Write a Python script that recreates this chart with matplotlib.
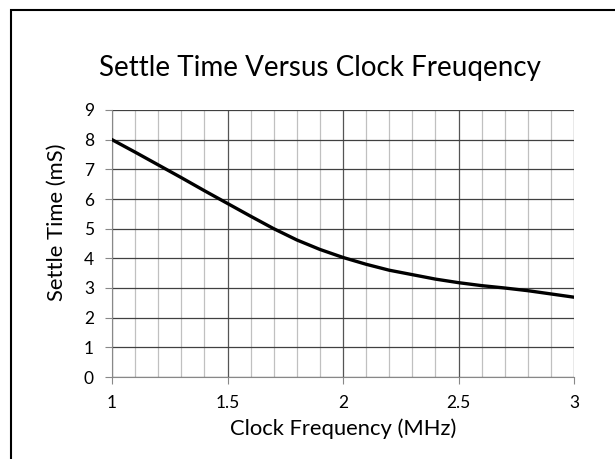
import matplotlib
matplotlib.use("Agg")
import matplotlib.pyplot as plt
from matplotlib.patches import Rectangle
from matplotlib.ticker import MultipleLocator

# clock frequency (MHz) and settle time (mS)
freq = [1.0, 1.1, 1.2, 1.3, 1.4, 1.5, 1.6, 1.7, 1.8, 1.9, 2.0,
        2.1, 2.2, 2.3, 2.4, 2.5, 2.6, 2.7, 2.8, 2.9, 3.0]
settle = [8.00, 7.58, 7.15, 6.72, 6.28, 5.85, 5.42, 5.00, 4.62, 4.30, 4.03,
          3.80, 3.60, 3.45, 3.30, 3.18, 3.08, 3.00, 2.91, 2.80, 2.69]

x_ticks = [1, 1.5, 2, 2.5, 3]
x_labels = ["1", "1.5", "2", "2.5", "3"]
y_ticks = list(range(0, 10))

plt.rcParams['font.family'] = ['Lato', 'DejaVu Sans']

fig = plt.figure(figsize=(6.15, 4.59), dpi=100)
ax = fig.add_axes([112/615, 1 - 377/459, (574-112)/615, (377-110)/459])

# outer frame of the chart area (runs off the right and bottom edge)
fig.patches.append(Rectangle((11/615, -0.05), 1.1, 1 - 10/459 + 0.05,
                             transform=fig.transFigure, fill=False,
                             edgecolor='black', linewidth=1.5))

ax.plot(freq, settle, color='black', linewidth=2.4, zorder=3)

ax.set_xlim(1, 3)
ax.set_ylim(0, 9)
ax.set_xticks(x_ticks)
ax.set_xticklabels(x_labels)
ax.set_yticks(y_ticks)
ax.xaxis.set_minor_locator(MultipleLocator(0.1))

ax.grid(which='minor', axis='x', color='#c0c0c0', linewidth=0.9)
ax.grid(which='major', axis='x', color='#555555', linewidth=0.9)
ax.grid(which='major', axis='y', color='#404040', linewidth=0.9)
ax.set_axisbelow(True)

for side in ['top', 'right']:
    ax.spines[side].set_visible(False)
for side in ['left', 'bottom']:
    ax.spines[side].set_color('#888888')

ax.tick_params(which='major', direction='out', length=5, color='#888888',
               labelsize=12.5)
ax.tick_params(axis='x', pad=8)
ax.tick_params(axis='y', pad=8)
ax.tick_params(which='minor', length=0)

# titles placed like the original chart (title centred on the chart box)
fig.text(320/615, 1 - 68/459, "Settle Time Versus Clock Freuqency",
         fontsize=20, ha='center', va='center')
ax.set_xlabel("Clock Frequency (MHz)", fontsize=15.8, labelpad=5)
fig.text(57/615, 1 - 222/459, "Settle Time (mS)", fontsize=15.8,
         rotation=90, ha='center', va='center')

fig.savefig("out.png", dpi=100)
